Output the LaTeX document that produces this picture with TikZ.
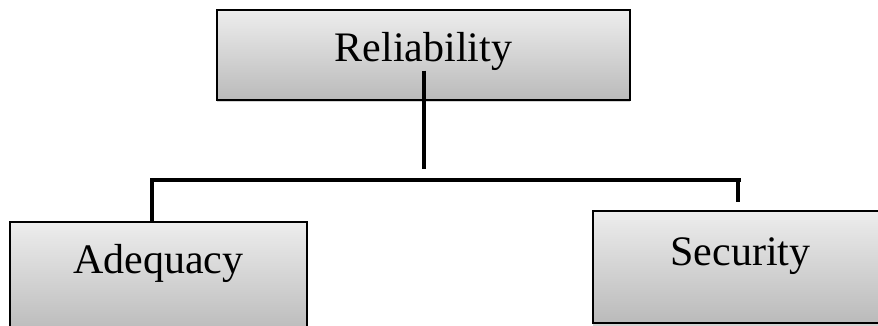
\documentclass[tikz,border=0pt]{standalone}
\usepackage{fontspec}
\setmainfont{Liberation Serif}
\usetikzlibrary{shadows,calc}
\tikzset{
  box/.style={draw=black, line width=1.3pt, rectangle, top color=black!7, bottom color=black!27,
    drop shadow={shadow xshift=0pt, shadow yshift=-2.5pt, opacity=0.35},
    font=\fontsize{42}{50}\selectfont, text height=29pt, inner sep=0pt},
  conn/.style={line width=4pt, black}
}
\begin{document}
\begin{tikzpicture}[x=1pt, y=-1pt]
  % Frame
  \clip (0,0) rectangle (878,326);

  % Boxes
  \node[box, minimum width=413pt, minimum height=90pt, text depth=15pt] (rel) at (423.5,55) {Reliability};
  \node[box, minimum width=297pt, minimum height=112pt, text depth=39pt] (adq) at (158.5,278) {Adequacy};
  \node[box, minimum width=295pt, minimum height=112pt, text depth=33pt] (sec) at (740.5,267) {Security};

  % Trunk
  \draw[conn] ([yshift=30pt]rel.south) -- ([yshift=-68pt]rel.south);

  % Branches
  \draw[conn] ([xshift=-6.5pt]adq.north) |- ([xshift=0.5pt,yshift=30pt]sec.north);
  \draw[conn] ([xshift=-2.5pt,yshift=30pt]sec.north) -- ([xshift=-2.5pt,yshift=8pt]sec.north);
\end{tikzpicture}
\end{document}
